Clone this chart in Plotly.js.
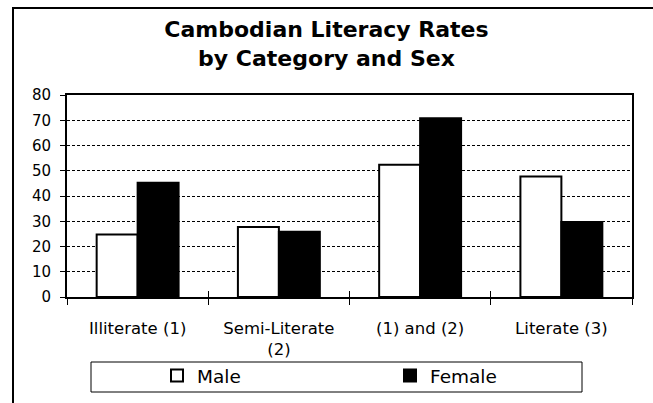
<!DOCTYPE html>
<html>
<head>
<meta charset="utf-8">
<script src="https://cdn.plot.ly/plotly-3.0.1.min.js"></script>
<style>
  html, body { margin: 0; padding: 0; background: #fff; }
  #wrap { position: relative; width: 653px; height: 403px; overflow: hidden; }
  #chart { position: absolute; left: 0; top: 0; width: 653px; height: 403px; }
  #frame { position: absolute; left: 12px; top: 7px; width: 660px; height: 420px;
           border: 2px solid #000; box-sizing: border-box; pointer-events: none; }
</style>
</head>
<body>
<div id="wrap"><div id="chart"></div><div id="frame"></div></div>
<script>
// Literacy rates (%) by category, split by sex
const categories = ['Illiterate (1)', 'Semi-Literate<br>(2)', '(1) and (2)', 'Literate (3)'];
const maleRates = [24.8, 27.7, 52.4, 47.7];
const femaleRates = [45.2, 25.8, 70.8, 29.7];
const yTickValues = [0, 10, 20, 30, 40, 50, 60, 70, 80];

const FONT = 'DejaVu Sans, Verdana, sans-serif';
const W = 653, H = 403;

const traces = [
  {
    type: 'bar', name: 'Male', x: categories, y: maleRates,
    marker: { color: '#ffffff', line: { color: '#000', width: 2 } },
    hoverinfo: 'x+y'
  },
  {
    type: 'bar', name: 'Female', x: categories, y: femaleRates,
    marker: { color: '#000000', line: { color: '#000', width: 2 } },
    hoverinfo: 'x+y'
  },
  // carrier for the overlaid axis that draws the inner half of the category ticks
  {
    type: 'scatter', mode: 'none', x: categories, y: maleRates,
    xaxis: 'x2', showlegend: false, hoverinfo: 'skip'
  }
];

// plot area geometry in pixels, used to place the legend frame
const PLOT_L = 67, PLOT_R = 632, PLOT_T = 95, PLOT_B = 297;
const pw = PLOT_R - PLOT_L, ph = PLOT_B - PLOT_T;
const px = v => (v - PLOT_L) / pw;
const py = v => (PLOT_B - v) / ph;

const layout = {
  width: W, height: H,
  margin: { l: PLOT_L, r: W - PLOT_R, t: PLOT_T, b: H - PLOT_B, pad: 0, autoexpand: false },
  paper_bgcolor: '#ffffff', plot_bgcolor: '#ffffff',
  font: { family: FONT, color: '#000' },
  title: {
    text: 'Cambodian Literacy Rates<br>by Category and Sex',
    font: { family: FONT, size: 22, weight: 'bold', color: '#000' },
    xref: 'container', x: 0.5, xanchor: 'center',
    yref: 'container', y: 1 - 37 / H, yanchor: 'top'
  },
  barmode: 'group', bargap: 0.42, bargroupgap: 0,
  xaxis: {
    type: 'category', tickson: 'boundaries',
    ticks: 'outside', ticklen: 6, tickwidth: 1, tickcolor: '#000',
    ticklabelstandoff: 15,
    showline: true, linecolor: '#000', linewidth: 2, mirror: true,
    showgrid: false, tickfont: { family: FONT, size: 16.5, color: '#000' },
    automargin: false, fixedrange: true
  },
  xaxis2: {
    type: 'category', overlaying: 'x', matches: 'x', anchor: 'y', side: 'bottom',
    tickson: 'boundaries', ticks: 'inside', ticklen: 6, tickwidth: 1, tickcolor: '#000',
    showticklabels: false, showline: false, showgrid: false, automargin: false
  },
  yaxis: {
    range: [0, 80], tickvals: yTickValues, ticktext: yTickValues.map(String),
    ticks: 'outside', ticklen: 5, tickwidth: 1, tickcolor: '#000',
    ticklabelstandoff: 6,
    showline: true, linecolor: '#000', linewidth: 2, mirror: true,
    showgrid: true, gridcolor: '#000', gridwidth: 1, griddash: '3px,2px',
    zeroline: false, tickfont: { family: FONT, size: 15, color: '#000' },
    automargin: false, fixedrange: true
  },
  showlegend: true,
  legend: {
    orientation: 'h', xref: 'container', yref: 'container',
    x: 157 / W, xanchor: 'left', y: 1 - 357 / H, yanchor: 'top',
    entrywidth: 188, bgcolor: 'rgba(0,0,0,0)', borderwidth: 0,
    font: { family: FONT, size: 18.5, color: '#000' },
    traceorder: 'normal'
  },
  shapes: [
    {
      type: 'rect', xref: 'paper', yref: 'paper', layer: 'below',
      x0: px(91), x1: px(582), y0: py(392), y1: py(362),
      line: { color: '#000', width: 1 }, fillcolor: 'rgba(0,0,0,0)'
    }
  ]
};

Plotly.newPlot('chart', traces, layout, { displayModeBar: false, staticPlot: true });
</script>
</body>
</html>
